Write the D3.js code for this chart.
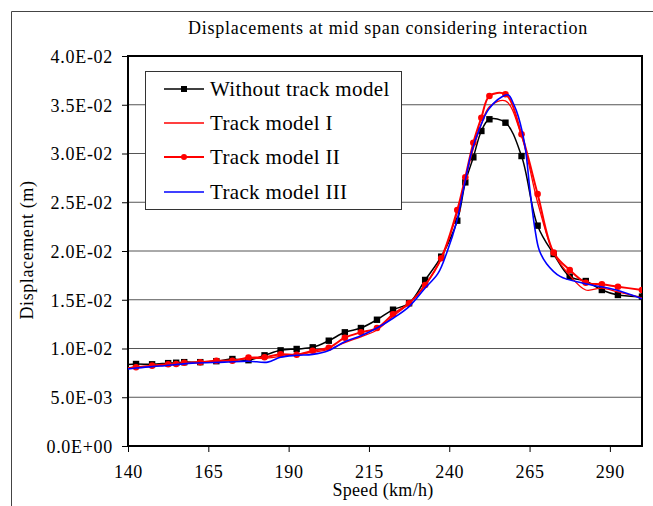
<!DOCTYPE html>
<meta charset="utf-8">
<script src="https://cdn.jsdelivr.net/npm/d3@7/dist/d3.min.js"></script>
<style>
    body { margin: 0; background: #fff; }
    text { font-family: "Liberation Serif", "Times New Roman", serif; fill: #000; }
    .tick text { font-size: 18px; letter-spacing: 0.7px; }
    .grid line { stroke: #555; stroke-width: 1px; }
</style>
<body>
<script>

    // speeds (km/h) sampled for the marker series
    var speed = [137.5, 142.5, 147.5, 152.5, 155, 157.5, 162.5, 167.5, 172.5, 177.5,
        182.5, 187.5, 192.5, 197.5, 202.5, 207.5, 212.5, 217.5, 222.5, 227.5,
        232.5, 237.5, 242.5, 245, 247.5, 250, 252.5, 257.5, 262.5, 267.5,
        272.5, 277.5, 282.5, 287.5, 292.5, 300];

    var withoutTrack = [0.0083, 0.00841, 0.00838, 0.0085, 0.00854, 0.0086, 0.0086, 0.0087, 0.00892, 0.0088,
        0.0093, 0.00981, 0.00995, 0.01012, 0.0108, 0.01166, 0.0121, 0.01295, 0.01398, 0.01464,
        0.01703, 0.01942, 0.02311, 0.02704, 0.02961, 0.03231, 0.03351, 0.03316, 0.02974, 0.0226,
        0.01969, 0.01737, 0.01692, 0.016, 0.01549, 0.01532];

    var trackI = [0.0079, 0.0081, 0.0082, 0.0083, 0.0084, 0.0085, 0.0086, 0.0087, 0.0088, 0.0090,
        0.0090, 0.0092, 0.0094, 0.0096, 0.0099, 0.0106, 0.0112, 0.0119, 0.0133, 0.0146,
        0.0165, 0.0192, 0.0240, 0.0273, 0.0305, 0.0330, 0.0348, 0.0354, 0.0318, 0.0250,
        0.0198, 0.0175, 0.0160, 0.0162, 0.0158, 0.0152];

    var trackII = [0.0079, 0.00807, 0.00824, 0.00838, 0.00841, 0.00854, 0.00858, 0.00875, 0.00875, 0.00906,
        0.0091, 0.0094, 0.00936, 0.00977, 0.01008, 0.01111, 0.01166, 0.0121, 0.01351, 0.01464,
        0.01651, 0.01925, 0.0242, 0.02756, 0.03111, 0.03367, 0.0359, 0.03607, 0.03197, 0.02585,
        0.01983, 0.01805, 0.01675, 0.01658, 0.01634, 0.016];

    // track model III has its own sampling
    var speedIII = [137.5, 142.5, 150, 160, 170, 177.5, 183.5, 187.5, 192.5, 197.5,
        202.5, 207.5, 212.5, 217.5, 222.5, 227.5, 232.5, 236.5, 239.2, 242.3,
        244.4, 247, 249.6, 252.2, 256.3, 258.4, 260, 261.5, 263.6, 265.1,
        266.7, 268, 270.3, 274.5, 281.7, 292, 300];
    var trackIII = [0.0078, 0.0080, 0.0082, 0.0085, 0.0086, 0.0087, 0.0086, 0.0091, 0.0093, 0.0094,
        0.0098, 0.0107, 0.0113, 0.0121, 0.0131, 0.0143, 0.0162, 0.0177, 0.0198, 0.0230,
        0.0263, 0.0302, 0.0327, 0.0345, 0.0358, 0.0360, 0.0351, 0.0338, 0.0307, 0.0263,
        0.0222, 0.0201, 0.0187, 0.0174, 0.0167, 0.0160, 0.0151];

    var xTicks = [140, 165, 190, 215, 240, 265, 290];
    var yTicks = [0, 0.005, 0.01, 0.015, 0.02, 0.025, 0.03, 0.035, 0.04];
    var yTickLabels = ["0.0E+00", "5.0E-03", "1.0E-02", "1.5E-02", "2.0E-02",
        "2.5E-02", "3.0E-02", "3.5E-02", "4.0E-02"];

    var width = 653,
        height = 506;
    var plotLeft = 128, plotRight = 642, plotTop = 56, plotBottom = 446;

    var svg = d3.select("body").append("svg")
        .attr("width", width)
        .attr("height", height);

    // outer chart frame (cut off at right and bottom)
    svg.append("path")
        .attr("d", "M11.5," + height + "V11.5H" + width)
        .attr("fill", "none")
        .attr("stroke", "#444")
        .attr("stroke-width", 1);

    var x = d3.scaleLinear().domain([140, 300]).range([plotLeft, plotRight]);
    var y = d3.scaleLinear().domain([0, 0.04]).range([plotBottom, plotTop]);

    // horizontal gridlines
    svg.append("g")
        .attr("class", "grid")
        .selectAll("line")
        .data(yTicks.slice(1, -1))
        .enter()
        .append("line")
        .attr("x1", plotLeft).attr("x2", plotRight)
        .attr("y1", function (d) { return y(d); })
        .attr("y2", function (d) { return y(d); });

    // axes
    var yAxis = d3.axisLeft(y)
        .tickValues(yTicks)
        .tickSize(6)
        .tickPadding(9)
        .tickFormat(function (d, i) { return yTickLabels[i]; });
    var gy = svg.append("g")
        .attr("transform", "translate(" + plotLeft + ",0)")
        .call(yAxis);

    var xAxis = d3.axisBottom(x)
        .tickValues(xTicks)
        .tickSize(6)
        .tickPadding(13)
        .tickFormat(d3.format("d"));
    var gx = svg.append("g")
        .attr("transform", "translate(0," + plotBottom + ")")
        .call(xAxis);

    [gx, gy].forEach(function (g) {
        g.select(".domain").remove();
        g.selectAll(".tick line").attr("stroke", "#000").attr("stroke-width", 1);
        g.selectAll(".tick text").attr("fill", "#000").attr("font-size", null).attr("font-family", null);
    });
    gy.selectAll(".tick text").attr("dy", "0.36em");

    // plot area border
    svg.append("rect")
        .attr("x", plotLeft).attr("y", plotTop)
        .attr("width", plotRight - plotLeft).attr("height", plotBottom - plotTop)
        .attr("fill", "none")
        .attr("stroke", "#000")
        .attr("stroke-width", 2);

    svg.append("clipPath")
        .attr("id", "plot-clip")
        .append("rect")
        .attr("x", plotLeft).attr("y", plotTop)
        .attr("width", plotRight - plotLeft).attr("height", plotBottom - plotTop);

    var plot = svg.append("g").attr("clip-path", "url(#plot-clip)");

    var line = d3.line()
        .x(function (d) { return x(d[0]); })
        .y(function (d) { return y(d[1]); })
        .curve(d3.curveCatmullRom.alpha(0.5));

    var series = [
        { name: "Without track model", xs: speed, ys: withoutTrack, color: "#000", width: 1.5, marker: "square" },
        { name: "Track model I", xs: speed, ys: trackI, color: "#ff0000", width: 1.3, marker: null },
        { name: "Track model II", xs: speed, ys: trackII, color: "#ff0000", width: 2, marker: "circle" },
        { name: "Track model III", xs: speedIII, ys: trackIII, color: "#0000ff", width: 1.6, marker: null }
    ];

    series.forEach(function (s) {
        s.points = s.xs.map(function (v, i) { return [v, s.ys[i]]; });
        plot.append("path")
            .datum(s.points)
            .attr("fill", "none")
            .attr("stroke", s.color)
            .attr("stroke-width", s.width)
            .attr("d", line);

        if (s.marker === "square") {
            plot.append("g").selectAll("rect")
                .data(s.points)
                .enter()
                .append("rect")
                .attr("x", function (d) { return x(d[0]) - 3.2; })
                .attr("y", function (d) { return y(d[1]) - 3.2; })
                .attr("width", 6.4).attr("height", 6.4)
                .attr("fill", s.color);
        } else if (s.marker === "circle") {
            plot.append("g").selectAll("circle")
                .data(s.points)
                .enter()
                .append("circle")
                .attr("cx", function (d) { return x(d[0]); })
                .attr("cy", function (d) { return y(d[1]); })
                .attr("r", 3.3)
                .attr("fill", s.color);
        }
    });

    // title and axis titles
    svg.append("text")
        .text("Displacements at mid span considering interaction")
        .attr("x", 388).attr("y", 34)
        .attr("text-anchor", "middle")
        .style("font-size", "18px")
        .style("letter-spacing", "0.75px");

    svg.append("text")
        .text("Speed (km/h)")
        .attr("x", 383).attr("y", 496)
        .attr("text-anchor", "middle")
        .style("font-size", "18px")
        .style("letter-spacing", "0.3px");

    svg.append("text")
        .text("Displacement (m)")
        .attr("transform", "translate(33,250) rotate(-90)")
        .attr("text-anchor", "middle")
        .style("font-size", "18px")
        .style("letter-spacing", "0.6px");

    // legend
    var legend = svg.append("g");
    legend.append("rect")
        .attr("x", 145.5).attr("y", 71.5)
        .attr("width", 256).attr("height", 138)
        .attr("fill", "#fff")
        .attr("stroke", "#333")
        .attr("stroke-width", 1);

    var rowY = [89, 123, 157, 192];
    series.forEach(function (s, i) {
        var g = legend.append("g").attr("transform", "translate(0," + rowY[i] + ")");
        g.append("line")
            .attr("x1", 164).attr("x2", 204)
            .attr("stroke", s.color)
            .attr("stroke-width", s.width);
        if (s.marker === "square") {
            g.append("rect").attr("x", 181).attr("y", -3).attr("width", 6).attr("height", 6).attr("fill", s.color);
        } else if (s.marker === "circle") {
            g.append("circle").attr("cx", 184).attr("r", 3).attr("fill", s.color);
        }
        g.append("text")
            .text(s.name)
            .attr("x", 210).attr("y", 7)
            .style("font-size", "21px")
            .style("letter-spacing", "0.35px");
    });

</script>
</body>
